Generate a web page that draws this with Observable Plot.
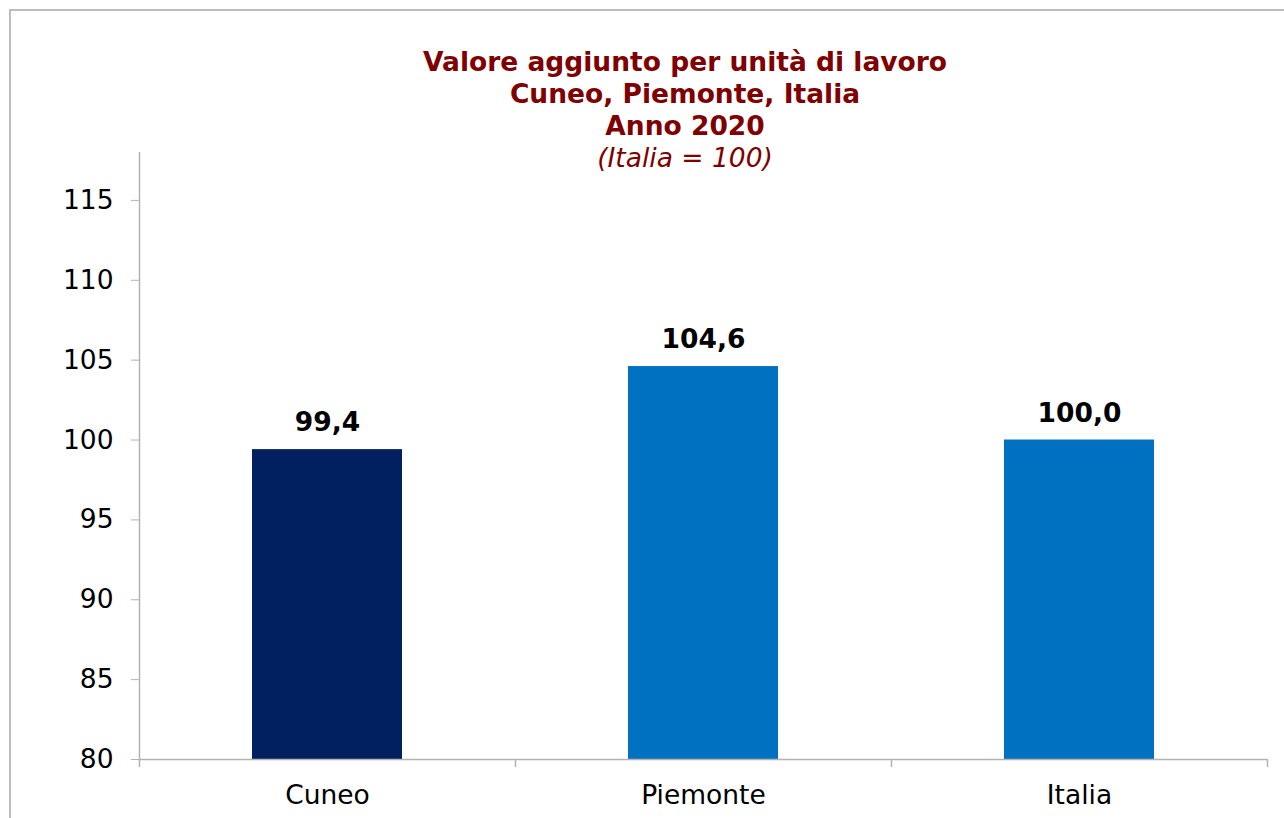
<!DOCTYPE html>
<html>
<head>
<meta charset="utf-8">
<script src="https://cdn.jsdelivr.net/npm/d3@7"></script>
<script src="https://cdn.jsdelivr.net/npm/@observablehq/plot@0.6"></script>
<style>
  html, body { margin: 0; padding: 0; background: #fff; width: 1284px; height: 818px; overflow: hidden; }
  #frame { position: absolute; left: 9px; top: 9px; width: 1400px; height: 900px; border: 2px solid #bdbdbd; box-sizing: border-box; }
  #title { position: absolute; left: 0; top: 46px; width: 1370px; text-align: center; font-family: "DejaVu Sans", Verdana, sans-serif; color: #7f0000; font-size: 26.5px; line-height: 32px; }
  #title .b { font-weight: bold; }
  #title .i { font-style: italic; }
  #chart { position: absolute; left: 0; top: 140px; }
</style>
</head>
<body>
<div id="frame"></div>
<div id="title">
  <div class="b">Valore aggiunto per unità di lavoro</div>
  <div class="b">Cuneo, Piemonte, Italia</div>
  <div class="b">Anno 2020</div>
  <div class="i">(Italia = 100)</div>
</div>
<div id="chart"></div>
<script>
const categories = ["Cuneo", "Piemonte", "Italia"];
const values = [99.4, 104.6, 100.0];
const barColors = ["#002060", "#0070C0", "#0070C0"];
const yTicks = [80, 85, 90, 95, 100, 105, 110, 115];

const data = categories.map((c, i) => ({ cat: c, value: values[i], color: barColors[i] }));

const W = 1284, H = 678;
const mL = 139, mR = 17, mT = 12, mB = 59;
const step = (W - mL - mR) / categories.length;
const gray = "#b3b3b3";
const fmt = v => v.toFixed(1).replace(".", ",");

const plot = Plot.plot({
  width: W,
  height: H,
  marginLeft: mL,
  marginRight: mR,
  marginTop: mT,
  marginBottom: mB,
  style: { background: "transparent", fontFamily: "'DejaVu Sans', Verdana, sans-serif", overflow: "visible" },
  x: { domain: categories, paddingInner: 0.6, paddingOuter: 0.3, label: null },
  y: { domain: [80, 118], label: null },
  marks: [
    Plot.barY(data, { x: "cat", y1: 80, y2: "value", fill: "color" }),
    Plot.ruleY([80], { stroke: gray, strokeWidth: 1.5 }),
    // left axis line
    Plot.ruleX([categories[0]], { x: d => d, dx: -step / 2, y1: 79.5, y2: 118, stroke: gray, strokeWidth: 1.5 }),
    // category boundary ticks
    Plot.ruleX(categories.slice(1), { x: d => d, dx: -step / 2, y1: 79.5, y2: 80, stroke: gray, strokeWidth: 1.5 }),
    Plot.ruleX([categories[categories.length - 1]], { x: d => d, dx: step / 2, y1: 79.5, y2: 80, stroke: gray, strokeWidth: 1.5 }),
    Plot.axisY({ ticks: yTicks, tickSize: 8, tickPadding: 18, stroke: gray, fontSize: 26.5, fill: "#000", tickFormat: d => d, label: null }),
    Plot.axisX({ tickSize: 0, tickPadding: 26, fontSize: 26.5, fill: "#000", label: null }),
    Plot.text(data, { x: "cat", y: "value", text: d => fmt(d.value), dy: -27, fontSize: 26.5, fontWeight: "bold", fill: "#000" })
  ]
});
document.getElementById("chart").appendChild(plot);
</script>
</body>
</html>
